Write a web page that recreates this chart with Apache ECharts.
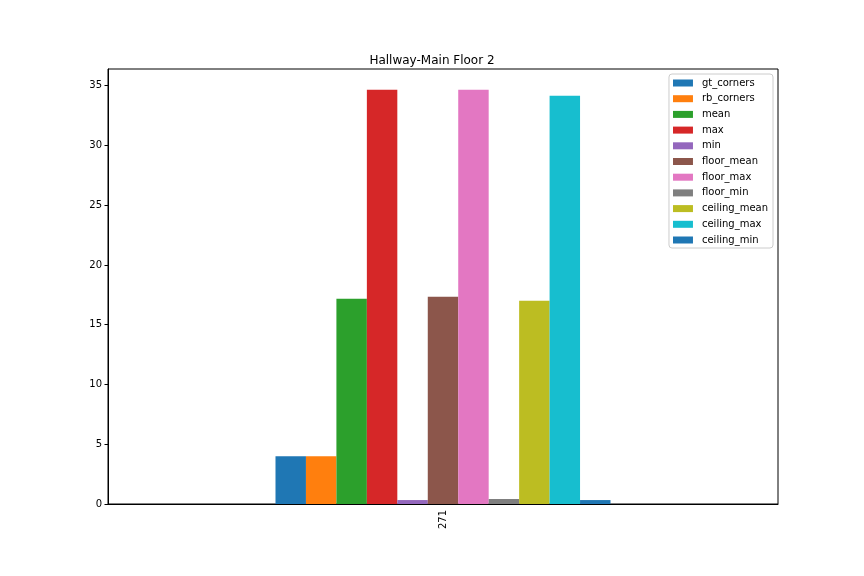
<!DOCTYPE html>
<html>
<head>
<meta charset="utf-8">
<script src="https://cdn.jsdelivr.net/npm/echarts@6/dist/echarts.min.js"></script>
<style>html,body{margin:0;padding:0;background:#fff}#c{width:864px;height:576px}</style>
</head>
<body>
<div id="c"></div>
<script>
const categories = ['271'];
const seriesNames = ['gt_corners','rb_corners','mean','max','min','floor_mean','floor_max','floor_min','ceiling_mean','ceiling_max','ceiling_min'];
const seriesValues = [4.0, 4.0, 17.17, 34.67, 0.33, 17.34, 34.67, 0.42, 17.0, 34.17, 0.33];
const colors = ['#1f77b4','#ff7f0e','#2ca02c','#d62728','#9467bd','#8c564b','#e377c2','#7f7f7f','#bcbd22','#17becf','#1f77b4'];
const yTicks = [0,5,10,15,20,25,30,35];

const font = 'DejaVu Sans';
const chart = echarts.init(document.getElementById('c'), null, {renderer:'canvas'});
chart.setOption({
  animation: false,
  backgroundColor: '#fff',
  color: colors,
  title: {
    text: 'Hallway-Main Floor 2',
    left: 'center',
    top: 50,
    textStyle: {fontFamily: font, fontSize: 12, fontWeight: 'normal', color: '#000'}
  },
  legend: {
    orient: 'vertical',
    right: 91,
    top: 74,
    itemWidth: 20,
    itemHeight: 7,
    itemGap: 3.7,
    padding: [3, 5, 2, 4],
    borderColor: '#ccc',
    borderWidth: 1,
    borderRadius: 3,
    icon: 'rect',
    textStyle: {fontFamily: font, fontSize: 10, color: '#000', lineHeight: 12, padding: [0, 0, 0, 4]},
    data: seriesNames
  },
  grid: {
    left: 108, right: 86, top: 69, bottom: 72,
    show: true, borderColor: '#000', borderWidth: 1, containLabel: false
  },
  xAxis: {
    type: 'category',
    data: categories,
    axisLine: {lineStyle: {color: '#000', width: 1}},
    axisTick: {alignWithLabel: true, length: 3.5, lineStyle: {color: '#000'}},
    axisLabel: {rotate: 90, fontFamily: font, fontSize: 10, color: '#000', margin: 6}
  },
  yAxis: {
    type: 'value',
    min: 0,
    max: 36.4,
    interval: 5,
    splitLine: {show: false},
    axisLine: {show: true, lineStyle: {color: '#000', width: 1}},
    axisTick: {show: true, length: 3.5, lineStyle: {color: '#000'}},
    axisLabel: {fontFamily: font, fontSize: 10, color: '#000', margin: 6, showMaxLabel: false,
      formatter: v => yTicks.indexOf(v) >= 0 ? String(v) : ''}
  },
  series: seriesNames.map((name, i) => ({
    name: name,
    type: 'bar',
    data: [seriesValues[i]],
    barGap: '0%',
    barCategoryGap: '50%',
    itemStyle: {color: colors[i]}
  }))
});
</script>
</body>
</html>
